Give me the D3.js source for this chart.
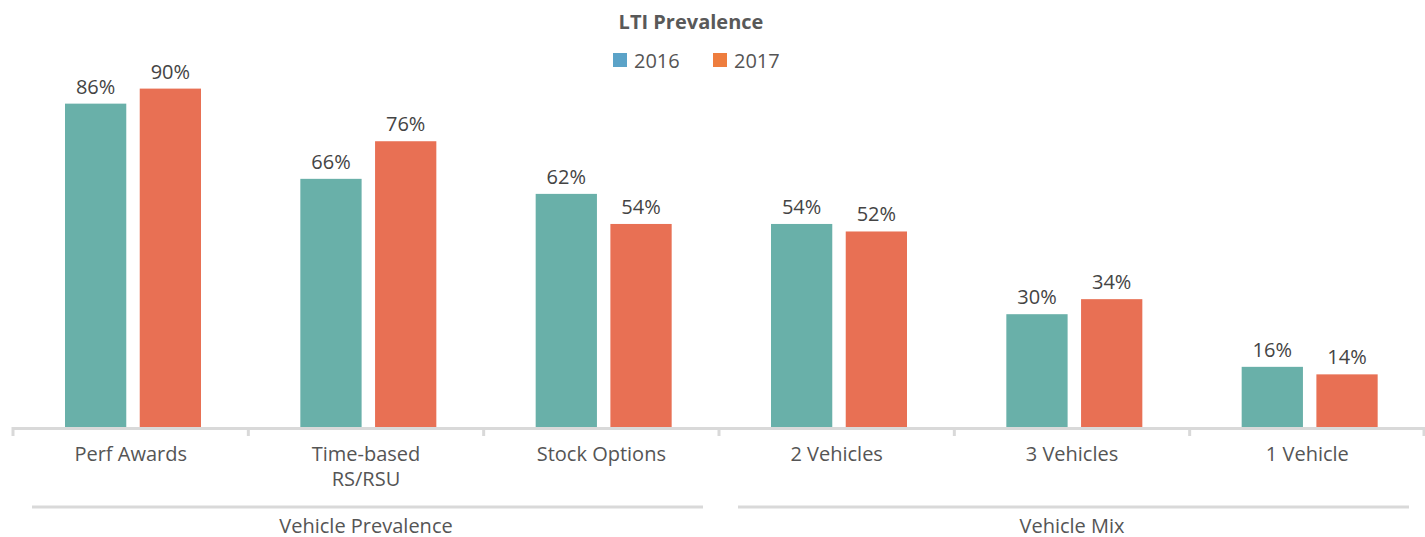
<!DOCTYPE html>
<html>
<head>
    <meta charset="utf-8">
    <title>LTI Prevalence</title>
    <style>
        body { margin: 0; background: #fff; }
        text { font-family: "Open Sans", Lato, sans-serif; }
    </style>
</head>
<body>
    <script src="https://d3js.org/d3.v7.min.js"></script>
    <script>
    // Data
    const categories = ["Perf Awards", "Time-based\nRS/RSU", "Stock Options", "2 Vehicles", "3 Vehicles", "1 Vehicle"];
    const groups = ["Vehicle Prevalence", "Vehicle Prevalence", "Vehicle Prevalence", "Vehicle Mix", "Vehicle Mix", "Vehicle Mix"];
    const years = ["2016", "2017"];
    const values2016 = [86, 66, 62, 54, 30, 16];
    const values2017 = [90, 76, 54, 52, 34, 14];

    const width = 1425, height = 537;
    const barColors = ["#69b0a9", "#e87054"];
    const legendColors = ["#5ba3c8", "#ee7d3e"];

    const svg = d3.select("body").append("svg")
        .attr("width", width)
        .attr("height", height);

    // scales
    const x = d3.scaleBand()
        .domain(categories)
        .range([13, 1425]);

    // bar pair inside each category
    const x1 = d3.scaleBand()
        .domain(years)
        .range([52, 188])
        .paddingInner(0.18);

    const y = d3.scaleLinear()
        .domain([0, 100])
        .range([427, 51]);

    const series = [values2016, values2017];

    // bars
    years.forEach((yr, j) => {
        svg.append("g").selectAll("rect")
            .data(categories)
            .enter()
            .append("rect")
            .attr("x", d => x(d) + x1(yr))
            .attr("y", (d, i) => y(series[j][i]))
            .attr("width", x1.bandwidth())
            .attr("height", (d, i) => y(0) - y(series[j][i]))
            .attr("fill", barColors[j]);

        svg.append("g").selectAll("text")
            .data(categories)
            .enter()
            .append("text")
            .attr("x", d => x(d) + x1(yr) + x1.bandwidth() / 2)
            .attr("y", (d, i) => y(series[j][i]) - 10)
            .attr("text-anchor", "middle")
            .attr("font-size", 20)
            .attr("fill", "#444")
            .text((d, i) => series[j][i] + "%");
    });

    // axis line and ticks
    const tickPos = categories.map(c => x(c)).concat([x.range()[1] - 1]);
    svg.append("line")
        .attr("x1", x.range()[0]).attr("x2", x.range()[1])
        .attr("y1", y(0) + 1.5).attr("y2", y(0) + 1.5)
        .attr("stroke", "#d9d9d9").attr("stroke-width", 3);
    svg.append("g").selectAll("line")
        .data(tickPos)
        .enter()
        .append("line")
        .attr("x1", d => d).attr("x2", d => d)
        .attr("y1", y(0)).attr("y2", y(0) + 9)
        .attr("stroke", "#d9d9d9").attr("stroke-width", 3);

    // category labels
    const catLabels = svg.append("g").selectAll("text")
        .data(categories)
        .enter()
        .append("text")
        .attr("x", d => x(d) + x.bandwidth() / 2)
        .attr("y", 461)
        .attr("text-anchor", "middle")
        .attr("font-size", 20)
        .attr("fill", "#555");
    catLabels.each(function(d) {
        const lines = d.split("\n");
        const t = d3.select(this);
        lines.forEach((l, k) => {
            t.append("tspan")
                .attr("x", x(d) + x.bandwidth() / 2)
                .attr("dy", k === 0 ? 0 : 25)
                .text(l);
        });
    });

    // group lines and labels
    const groupNames = Array.from(new Set(groups));
    groupNames.forEach(g => {
        const cats = categories.filter((c, i) => groups[i] === g);
        const x0 = x(cats[0]);
        const xEnd = x(cats[cats.length - 1]) + x.bandwidth();
        svg.append("line")
            .attr("x1", x0 + 19).attr("x2", xEnd - 16)
            .attr("y1", 507).attr("y2", 507)
            .attr("stroke", "#d9d9d9").attr("stroke-width", 3);
        svg.append("text")
            .attr("x", (x0 + xEnd) / 2)
            .attr("y", 533)
            .attr("text-anchor", "middle")
            .attr("font-size", 20)
            .attr("fill", "#555")
            .text(g);
    });

    // title
    svg.append("text")
        .attr("x", 691)
        .attr("y", 29)
        .attr("text-anchor", "middle")
        .attr("font-size", 20)
        .attr("font-weight", "bold")
        .attr("fill", "#595959")
        .text("LTI Prevalence");

    // legend
    const legendX = [613, 713];
    years.forEach((yr, j) => {
        svg.append("rect")
            .attr("x", legendX[j]).attr("y", 53)
            .attr("width", 14).attr("height", 14)
            .attr("fill", legendColors[j]);
        svg.append("text")
            .attr("x", legendX[j] + 21)
            .attr("y", 68)
            .attr("font-size", 20)
            .attr("fill", "#555")
            .text(yr);
    });
    </script>
</body>
</html>
